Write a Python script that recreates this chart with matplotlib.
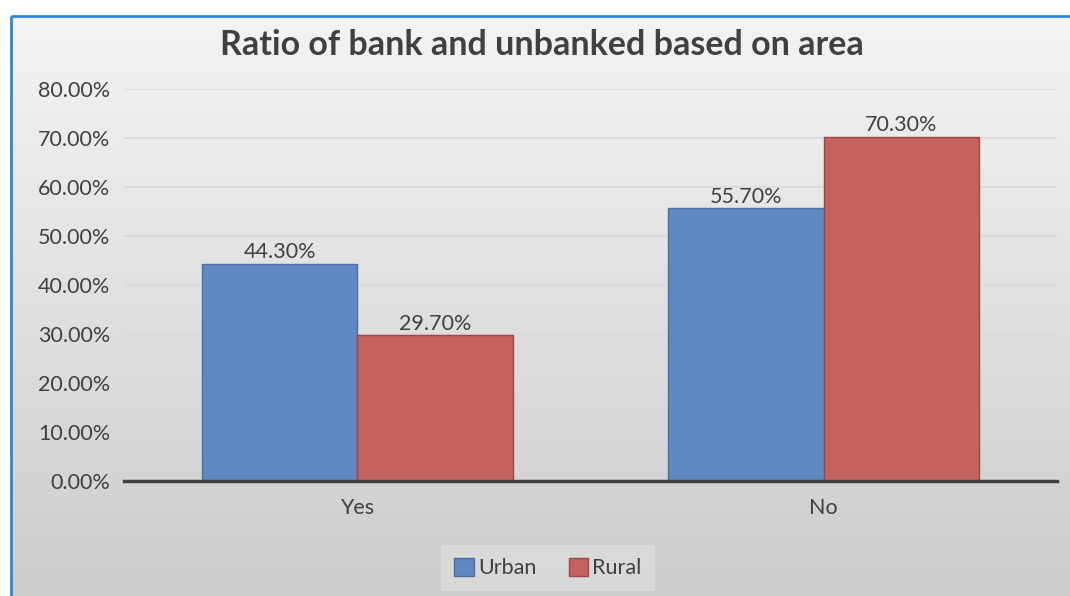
import matplotlib
matplotlib.use("Agg")
import matplotlib.pyplot as plt
import numpy as np
from matplotlib.patches import Rectangle
from matplotlib.ticker import FuncFormatter

categories = ["Yes", "No"]
series_names = ["Urban", "Rural"]
urban = [0.443, 0.557]
rural = [0.297, 0.703]
yticks = [0.0, 0.1, 0.2, 0.3, 0.4, 0.5, 0.6, 0.7, 0.8]

plt.rcParams['font.family'] = ['Lato', 'DejaVu Sans']

W, H = 1070, 596
fig = plt.figure(figsize=(W / 100, H / 100), dpi=100)
fig.patch.set_facecolor('white')

# background gradient panel
bg = fig.add_axes([0, 0, 1, 1], zorder=-2)
bg.set_xlim(0, W)
bg.set_ylim(H, 0)
bg.axis('off')
grad = np.linspace(0, 1, 256).reshape(-1, 1)
top = np.array([0.955, 0.955, 0.955])
bot = np.array([0.80, 0.80, 0.80])
img = top[None, None, :] * (1 - grad[:, :, None]) + bot[None, None, :] * grad[:, :, None]
bg.imshow(img, extent=[11, W + 5, H + 5, 16], aspect='auto', zorder=0)
bg.add_patch(Rectangle((11, 16), W, H, fill=False, edgecolor='#2e86d6', linewidth=2.0, zorder=2))

ax = fig.add_axes([124 / W, 1 - 481 / H, (1057 - 124) / W, (481 - 89) / H])
ax.patch.set_alpha(0)

x = np.arange(len(categories))
bw = 1 / 3
b1 = ax.bar(x - bw / 2, urban, bw, color='#6089c1', edgecolor='#4a6fa3', linewidth=1.0, label=series_names[0], zorder=3)
b2 = ax.bar(x + bw / 2, rural, bw, color='#c3625e', edgecolor='#9e4744', linewidth=1.0, label=series_names[1], zorder=3)

for bars, vals in ((b1, urban), (b2, rural)):
    for r, v in zip(bars, vals):
        ax.text(r.get_x() + r.get_width() / 2, v + 0.003, f"{v*100:.2f}%", ha='center', va='bottom',
                fontsize=15.5, color='#404040')

ax.set_xlim(-0.5, 1.5)
ax.set_ylim(0, 0.8)
ax.set_yticks(yticks)
ax.yaxis.set_major_formatter(FuncFormatter(lambda v, p: f"{v*100:.2f}%"))
ax.set_xticks(x)
ax.set_xticklabels(categories)
ax.tick_params(axis='both', length=0, labelsize=15.5, labelcolor='#404040')
ax.tick_params(axis='y', pad=10)
ax.tick_params(axis='x', pad=12)
ax.grid(axis='y', color='#d9d9d9', linewidth=1.2, zorder=0)
for s in ['top', 'right', 'left']:
    ax.spines[s].set_visible(False)
ax.spines['bottom'].set_color('#404040')
ax.spines['bottom'].set_linewidth(2.5)
ax.spines['bottom'].set_zorder(4)

fig.text(542 / W, 1 - 45 / H, "Ratio of bank and unbanked based on area", ha='center', va='center',
         fontsize=24.5, fontweight='bold', color='#404040')

leg = fig.legend(handles=[b1, b2], labels=series_names, loc='center', bbox_to_anchor=(548 / W, 1 - 568 / H),
                 ncol=2, frameon=True, fontsize=15.5, handlelength=0.9, handleheight=0.9, handletextpad=0.2,
                 columnspacing=1.5, borderpad=0.6)
leg.get_frame().set_facecolor('#dcdcdc')
leg.get_frame().set_edgecolor('none')
leg.get_frame().set_boxstyle('square', pad=0)
for t in leg.get_texts():
    t.set_color('#404040')

fig.savefig("out.png", dpi=100)
